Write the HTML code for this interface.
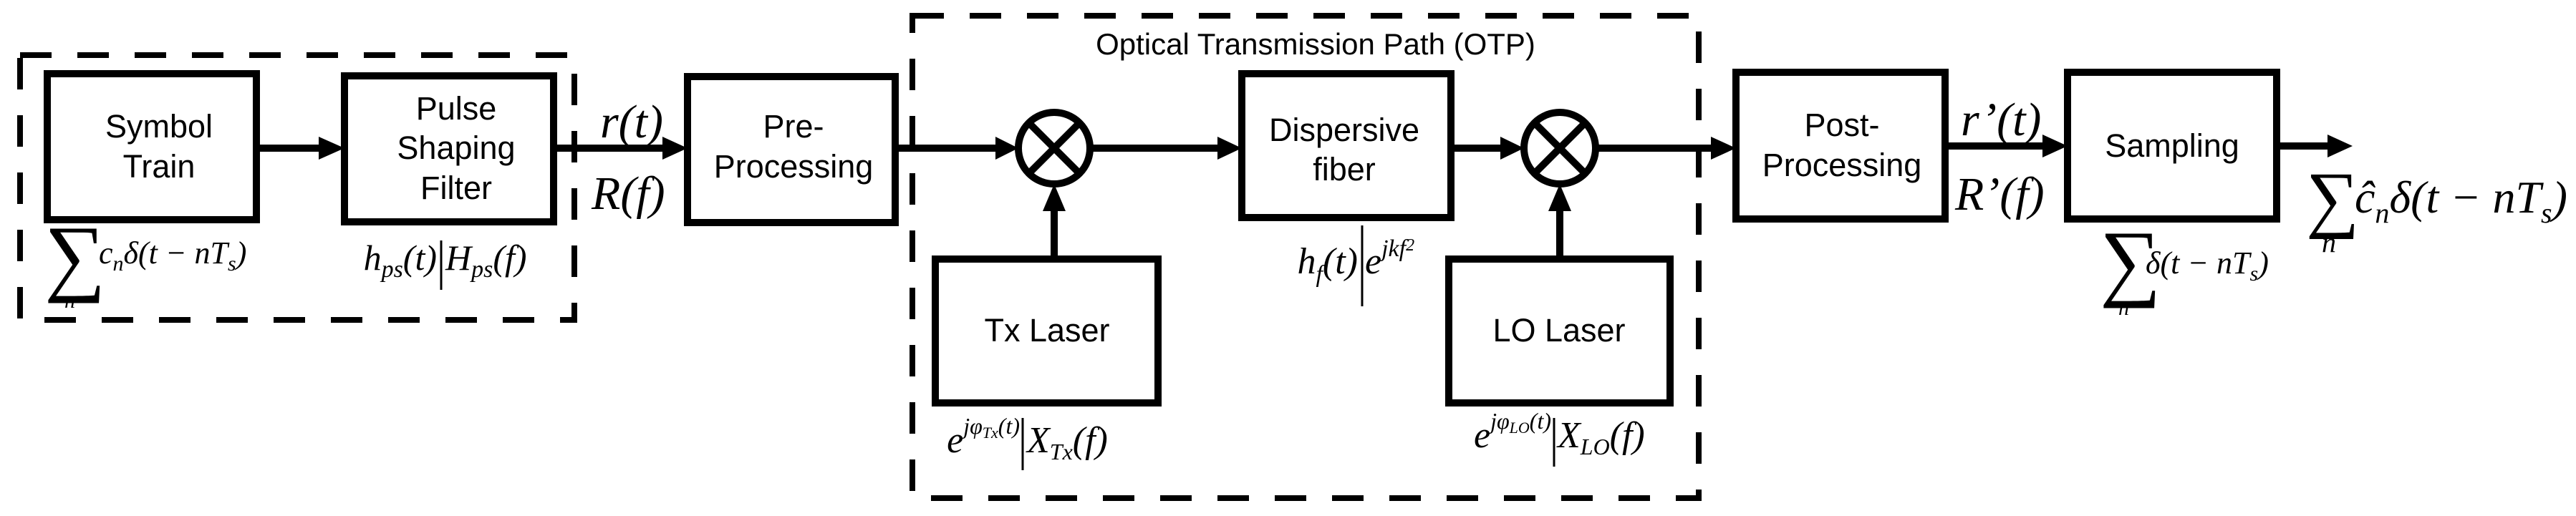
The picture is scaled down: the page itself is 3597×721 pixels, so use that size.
<!DOCTYPE html>
<html><head><meta charset="utf-8"><style>
html,body{margin:0;padding:0;background:#fff;}
svg{display:block}
.s{font-family:"Liberation Sans",Arial,sans-serif;fill:#000;text-anchor:middle}
.m{font-family:"Liberation Serif","DejaVu Serif","Times New Roman",serif;font-style:italic;fill:#000}
.n{font-style:normal}
.e{text-anchor:end}
</style></head><body>
<svg width="3597" height="721" viewBox="0 0 3597 721" xmlns="http://www.w3.org/2000/svg">
<g fill="none" stroke="#000" stroke-width="8" stroke-dasharray="44 36">
<rect x="28" y="77" width="774" height="370"/>
<rect x="1274" y="22" width="1098" height="674"/>
</g>
<g fill="#fff" stroke="#000" stroke-width="10">
<rect x="66" y="103" width="292" height="204"/>
<rect x="481" y="106" width="292" height="204"/>
<rect x="960" y="107" width="290" height="204"/>
<rect x="1734" y="103" width="292" height="201"/>
<rect x="1306" y="362" width="311" height="201"/>
<rect x="2023" y="362" width="309" height="201"/>
<rect x="2424" y="101" width="292" height="205"/>
<rect x="2887" y="101" width="292" height="205"/>
</g>
<g stroke="#000" stroke-width="10" fill="none">
<line x1="358" y1="207" x2="450" y2="207"/>
<line x1="773" y1="207" x2="930" y2="207"/>
<line x1="1250" y1="207" x2="1395" y2="207"/>
<line x1="1523" y1="207" x2="1705" y2="207"/>
<line x1="2026" y1="207" x2="2100" y2="207"/>
<line x1="2229" y1="207" x2="2394" y2="207"/>
<line x1="2716" y1="204" x2="2857" y2="204"/>
<line x1="3179" y1="204" x2="3255" y2="204"/>
<line x1="1472" y1="361" x2="1472" y2="290"/>
<line x1="2178" y1="361" x2="2178" y2="290"/>
<circle cx="1472" cy="207" r="50"/>
<circle cx="2178" cy="207" r="50"/>
<line x1="1437" y1="172" x2="1507" y2="242"/>
<line x1="1507" y1="172" x2="1437" y2="242"/>
<line x1="2143" y1="172" x2="2213" y2="242"/>
<line x1="2213" y1="172" x2="2143" y2="242"/>
</g>
<g fill="#000">
<polygon points="445,191 481,207 445,223"/>
<polygon points="925,191 960,207 925,223"/>
<polygon points="1390,191 1422,207 1390,223"/>
<polygon points="1700,191 1734,207 1700,223"/>
<polygon points="2095,191 2128,207 2095,223"/>
<polygon points="2389,191 2424,207 2389,223"/>
<polygon points="2852,188 2887,204 2852,220"/>
<polygon points="3250,188 3285,204 3250,220"/>
<polygon points="1456,295 1472,257 1488,295"/>
<polygon points="2162,295 2178,257 2194,295"/>
</g>
<g stroke="#000" stroke-width="3">
<line x1="616" y1="336" x2="616" y2="405"/>
<line x1="1902" y1="315" x2="1902" y2="428"/>
<line x1="1428" y1="584" x2="1428" y2="657"/>
<line x1="2170" y1="584" x2="2170" y2="652"/>
</g>
<g class="s" font-size="45">
<text x="222" y="192">Symbol</text><text x="222" y="248">Train</text>
<text x="637" y="167">Pulse</text><text x="637" y="222">Shaping</text><text x="637" y="278">Filter</text>
<text x="1108" y="192">Pre-</text><text x="1108" y="248">Processing</text>
<text x="1877" y="197">Dispersive</text><text x="1877" y="252">fiber</text>
<text x="1462" y="477">Tx Laser</text>
<text x="2177" y="477">LO Laser</text>
<text x="2572" y="190">Post-</text><text x="2572" y="246">Processing</text>
<text x="3033" y="219">Sampling</text>
<text x="1837" y="76" font-size="42">Optical Transmission Path (OTP)</text>
</g>
<g class="m">
<text x="838" y="192" font-size="66">r(t)</text>
<text x="826" y="292" font-size="66">R(f)</text>
<text x="2738" y="189" font-size="66">r’(t)</text>
<text x="2730" y="293" font-size="66">R’(f)</text>
<text x="62" y="398" font-size="120" class="n">∑</text>
<text x="138" y="368" font-size="44">c<tspan font-size="30" dy="10">n</tspan><tspan dy="-10">δ(t − nT</tspan><tspan font-size="30" dy="10">s</tspan><tspan dy="-10">)</tspan></text>
<text x="90" y="430" font-size="30">n</text>
<text x="610" y="377" font-size="50" class="e">h<tspan font-size="34" dy="10">ps</tspan><tspan dy="-10">(t)</tspan></text>
<text x="622" y="377" font-size="50">H<tspan font-size="34" dy="10">ps</tspan><tspan dy="-10">(f)</tspan></text>
<text x="1896" y="382" font-size="52" class="e">h<tspan font-size="34" dy="12">f</tspan><tspan dy="-12">(t)</tspan></text>
<text x="1906" y="382" font-size="52">e<tspan font-size="34" dy="-24">jkf</tspan><tspan font-size="24" dy="-8">2</tspan></text>
<text x="1424" y="632" font-size="52" class="e">e<tspan font-size="32" dy="-26">jφ</tspan><tspan font-size="22" dy="6">Tx</tspan><tspan font-size="32" dy="-6">(t)</tspan></text>
<text x="1434" y="632" font-size="52">X<tspan font-size="32" dy="10">Tx</tspan><tspan dy="-10">(f)</tspan></text>
<text x="2166" y="625" font-size="52" class="e">e<tspan font-size="32" dy="-26">jφ</tspan><tspan font-size="22" dy="6">LO</tspan><tspan font-size="32" dy="-6">(t)</tspan></text>
<text x="2175" y="625" font-size="52">X<tspan font-size="32" dy="10">LO</tspan><tspan dy="-10">(f)</tspan></text>
<text x="2932" y="405" font-size="120" class="n">∑</text>
<text x="2996" y="382" font-size="44">δ(t − nT<tspan font-size="30" dy="10">s</tspan><tspan dy="-10">)</tspan></text>
<text x="2958" y="440" font-size="30">n</text>
<text x="3220" y="312" font-size="104" class="n">∑</text>
<text x="3288" y="297" font-size="64">ĉ<tspan font-size="40" dy="14">n</tspan><tspan dy="-14">δ(t − nT</tspan><tspan font-size="40" dy="14">s</tspan><tspan dy="-14">)</tspan></text>
<text x="3242" y="352" font-size="40">n</text>
</g>
</svg>
</body></html>
